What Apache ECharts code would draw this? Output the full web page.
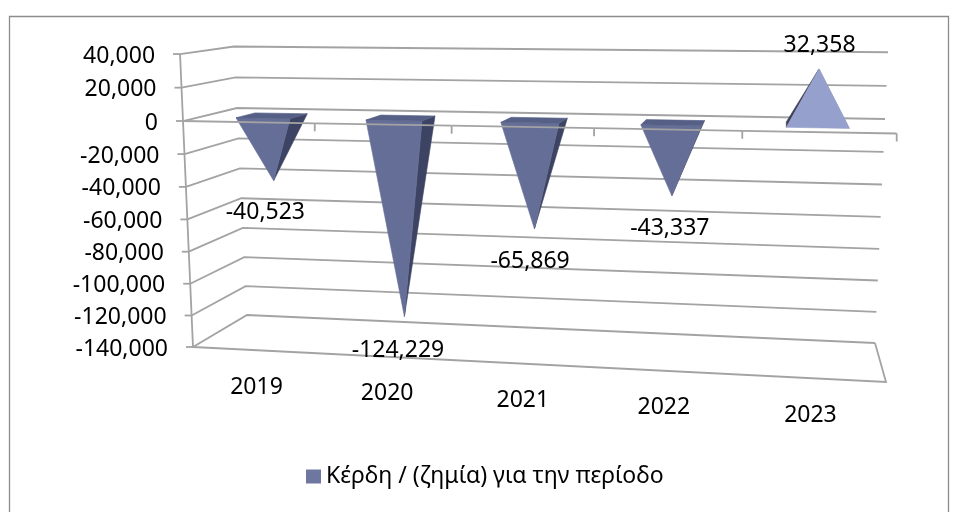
<!DOCTYPE html>
<html>
<head>
<meta charset="utf-8">
<script src="https://cdn.jsdelivr.net/npm/echarts@6/dist/echarts.min.js"></script>
<style>
  html, body { margin: 0; padding: 0; background: #ffffff; }
  #chart { width: 953px; height: 512px; }
</style>
</head>
<body>
<div id="chart"></div>
<script>
// ---- data ----
const categories = ['2019', '2020', '2021', '2022', '2023'];
const profitLoss = [-40523, -124229, -65869, -43337, 32358];
const valueTicks = [40000, 20000, 0, -20000, -40000, -60000, -80000, -100000, -120000, -140000];
const seriesName = 'Κέρδη / (ζημία) για την περίοδο';

// ---- 3D box layout (screen corners of the zero line and the floor) ----
// order: zero-left, zero-right, floor-right, floor-left
const FRONT_QUAD = [[183, 121], [896.7, 133.5], [886, 382], [193, 347]];
const BACK_QUAD  = [[237, 108], [885, 119], [875, 343], [247, 315]];
const Z_FRONT = 0.30, Z_BACK = 0.67, Z_MID = 0.47;    // pyramid depth inside the box
const BASE_HALF = 0.21;                               // half base width, share of a category band
const GRID_COLOR = '#a3a3a3';
const GRID_WIDTH = 1.8;
const FONT = 'Noto Sans';
const FONT_SIZE = 23;
const SERIES_COLOR = '#6d77a0';
const NEG = { front: '#656e97', right: '#3d4362', left: '#4a5075', back: '#4a5075', base: '#565f86' };
const POS = { front: '#95a0cc', right: '#8891bd', left: '#3b3f57', back: '#6c76a0', base: '#6c76a0' };

const yMax = valueTicks[0];
const yMin = valueTicks[valueTicks.length - 1];
const fmt = v => v.toLocaleString('en-US');

// perspective map of the unit square onto a quadrilateral
function quadMap(q) {
  const [p0, p1, p2, p3] = q;
  const dx1 = p1[0] - p2[0], dx2 = p3[0] - p2[0], dx3 = p0[0] - p1[0] + p2[0] - p3[0];
  const dy1 = p1[1] - p2[1], dy2 = p3[1] - p2[1], dy3 = p0[1] - p1[1] + p2[1] - p3[1];
  const den = dx1 * dy2 - dx2 * dy1;
  const g = (dx3 * dy2 - dx2 * dy3) / den;
  const h = (dx1 * dy3 - dx3 * dy1) / den;
  const a = p1[0] - p0[0] + g * p1[0], b = p3[0] - p0[0] + h * p3[0], c = p0[0];
  const d = p1[1] - p0[1] + g * p1[1], e = p3[1] - p0[1] + h * p3[1], f = p0[1];
  return (u, v) => {
    const w = g * u + h * v + 1;
    return [(a * u + b * v + c) / w, (d * u + e * v + f) / w];
  };
}
const frontMap = quadMap(FRONT_QUAD);
const backMap = quadMap(BACK_QUAD);

// turns flat cartesian pixels (from the axes) plus a depth into box coordinates
function projector(params, api) {
  const cs = params.coordSys;
  const y0 = api.coord([0, 0])[1];
  const y1 = api.coord([0, yMin])[1];
  return (px, py, z) => {
    const u = (px - cs.x) / cs.width;
    const v = (py - y0) / (y1 - y0);
    const f = frontMap(u, v), b = backMap(u, v);
    return [f[0] + (b[0] - f[0]) * z, f[1] + (b[1] - f[1]) * z];
  };
}

function area(pts) {
  let s = 0;
  for (let i = 0; i < pts.length; i++) {
    const p = pts[i], q = pts[(i + 1) % pts.length];
    s += p[0] * q[1] - q[0] * p[1];
  }
  return s;
}

function textStyle(text, align, vAlign) {
  return { text, fill: '#000000', fontFamily: FONT, fontSize: FONT_SIZE, align, verticalAlign: vAlign };
}
function lineStyle() {
  return { stroke: GRID_COLOR, lineWidth: GRID_WIDTH, fill: 'none' };
}

// side wall + back wall gridlines, value ticks and labels
function wallItem(params, api) {
  const P = projector(params, api);
  const cs = params.coordSys;
  const v = api.value(1);
  const py = api.coord([0, v])[1];
  const fl = P(cs.x, py, 0), bl = P(cs.x, py, 1), br = P(cs.x + cs.width, py, 1);
  return {
    type: 'group',
    children: [
      { type: 'polyline', shape: { points: [fl, bl, br] }, style: lineStyle() },
      { type: 'line', shape: { x1: fl[0] - 7, y1: fl[1], x2: fl[0], y2: fl[1] }, style: lineStyle() },
      { type: 'text', x: fl[0] - 25, y: fl[1] + 2, style: textStyle(fmt(v), 'right', 'middle') }
    ]
  };
}

// value axis edge and floor outline
function frameItem(params, api) {
  const P = projector(params, api);
  const cs = params.coordSys;
  const top = api.coord([0, yMax])[1];
  const bottom = api.coord([0, yMin])[1];
  const l = cs.x, r = cs.x + cs.width;
  const a = P(l, top, 0), b = P(l, bottom, 0), c = P(r, bottom, 0), d = P(r, bottom, 1);
  return {
    type: 'group',
    children: [
      { type: 'line', shape: { x1: a[0], y1: a[1], x2: b[0], y2: b[1] }, style: lineStyle() },
      { type: 'polyline', shape: { points: [b, c, d] }, style: lineStyle() }
    ]
  };
}

// zero line with category ticks, and category labels below the floor
function categoryItem(params, api) {
  const P = projector(params, api);
  const i = api.value(0);
  const c = api.coord([i, 0]);
  const half = api.size([1, 0])[0] / 2;
  const bottom = api.coord([i, yMin])[1];
  const s = P(c[0] - half, c[1], 0), e = P(c[0] + half, c[1], 0);
  const lab = P(c[0], bottom, 0);
  return {
    type: 'group',
    children: [
      { type: 'line', shape: { x1: s[0], y1: s[1], x2: e[0], y2: e[1] }, style: lineStyle() },
      { type: 'line', shape: { x1: e[0], y1: e[1], x2: e[0], y2: e[1] + 8 }, style: lineStyle() },
      { type: 'text', x: lab[0], y: lab[1] + 37, style: textStyle(categories[i], 'center', 'middle') }
    ]
  };
}

// one pyramid per year, base on the zero plane, apex at the value
function pyramidItem(params, api) {
  const P = projector(params, api);
  const i = api.value(0), v = api.value(1);
  const apex = api.coord([i, v]);
  const base = api.coord([i, 0]);
  const half = api.size([1, 0])[0] * BASE_HALF;
  const xl = base[0] - half, xr = base[0] + half, yb = base[1];
  const FL = P(xl, yb, Z_FRONT), FR = P(xr, yb, Z_FRONT);
  const BR = P(xr, yb, Z_BACK), BL = P(xl, yb, Z_BACK);
  const T = P(apex[0], apex[1], Z_MID);
  const up = v >= 0;
  const pal = up ? POS : NEG;
  const faces = [
    { pts: [BR, BL, T], c: pal.back },
    { pts: [BL, FL, T], c: pal.left },
    { pts: [FR, BR, T], c: pal.right },
    { pts: [FL, FR, T], c: pal.front },
    { pts: [BL, BR, FR, FL], c: pal.base }
  ];
  if (up) faces.forEach(f => { f.pts = f.pts.slice().reverse(); });
  const children = faces
    .filter(f => area(f.pts) > 0)
    .map(f => ({ type: 'polygon', shape: { points: f.pts }, style: { fill: f.c, stroke: f.c, lineWidth: 0.6 } }));
  const anchor = P(apex[0], apex[1], Z_FRONT);
  children.push({
    type: 'text', x: anchor[0], y: anchor[1] + (up ? -25 : 29), z2: 10,
    style: textStyle(fmt(v), 'center', 'middle')
  });
  return { type: 'group', children };
}

const chart = echarts.init(document.getElementById('chart'), null, { renderer: 'canvas' });
chart.setOption({
  backgroundColor: '#ffffff',
  animation: false,
  grid: { left: 100, right: 100, top: 60, bottom: 100, show: false },
  xAxis: { type: 'category', data: categories, show: false },
  yAxis: { type: 'value', min: yMin, max: yMax, interval: 20000, show: false },
  legend: {
    data: [{ name: seriesName, icon: 'rect', itemStyle: { color: SERIES_COLOR } }],
    icon: 'rect',
    left: 306, top: 465, padding: 0,
    itemWidth: 15, itemHeight: 14, itemGap: 10,
    selectedMode: false,
    itemStyle: { color: SERIES_COLOR, borderWidth: 0 },
    textStyle: { fontFamily: FONT, fontSize: FONT_SIZE, color: '#000000' }
  },
  graphic: [{
    type: 'rect', left: 7, top: 14, silent: true,
    shape: { x: 0, y: 0, width: 939, height: 520 },
    style: { fill: 'none', stroke: '#8c8c8c', lineWidth: 1.3 }
  }],
  series: [
    { name: 'walls', type: 'custom', z: 1, clip: false, silent: true,
      data: valueTicks.map(v => [0, v]), encode: { x: 0, y: 1 }, renderItem: wallItem },
    { name: 'frame', type: 'custom', z: 1, clip: false, silent: true,
      data: [[0, 0]], encode: { x: 0, y: 1 }, renderItem: frameItem },
    { name: seriesName, type: 'custom', z: 2, clip: false, silent: true,
      itemStyle: { color: SERIES_COLOR },
      data: profitLoss.map((v, i) => [i, v]), encode: { x: 0, y: 1 }, renderItem: pyramidItem },
    { name: 'zero', type: 'custom', z: 3, clip: false, silent: true,
      data: categories.map((c, i) => [i, 0]), encode: { x: 0, y: 1 }, renderItem: categoryItem }
  ]
});
</script>
</body>
</html>
